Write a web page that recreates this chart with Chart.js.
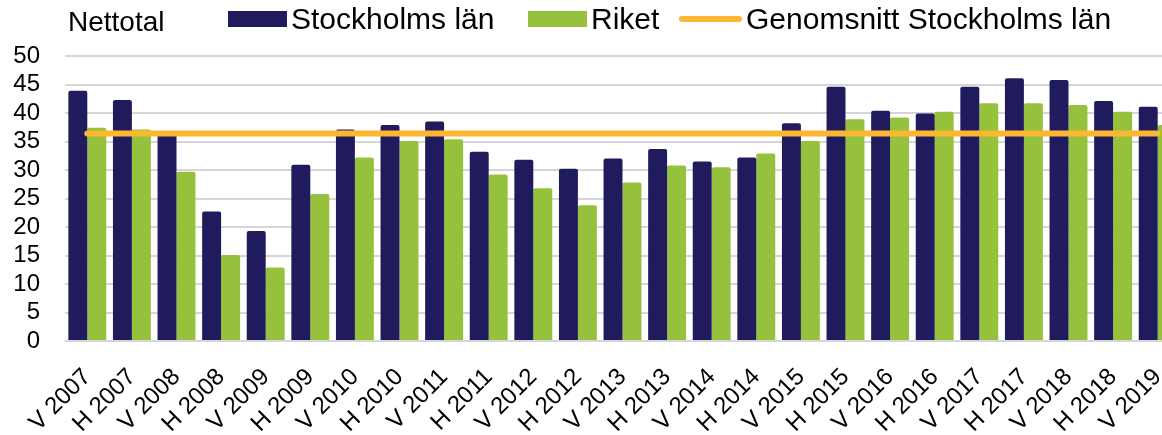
<!DOCTYPE html>
<html><head><meta charset="utf-8">
<script src="https://cdn.jsdelivr.net/npm/chart.js@4.4.1/dist/chart.umd.min.js"></script>
<style>
html,body{margin:0;padding:0;background:#fff;overflow:hidden;}
#wrap{position:relative;width:1162px;height:435px;overflow:hidden;background:#fff;}
#cwrap{position:absolute;left:0;top:0;width:1180px;height:435px;}
.lbl{position:absolute;font-family:"Liberation Sans",Arial,sans-serif;color:#000;line-height:1;white-space:nowrap;}
.sw{position:absolute;}
</style></head><body>
<div id="wrap"><div id="cwrap"><canvas id="c"></canvas></div><div id="legend"></div></div>
<script>
const categories = ["V 2007","H 2007","V 2008","H 2008","V 2009","H 2009","V 2010","H 2010","V 2011","H 2011","V 2012","H 2012","V 2013","H 2013","V 2014","H 2014","V 2015","H 2015","V 2016","H 2016","V 2017","H 2017","V 2018","H 2018","V 2019"];
const stockholm = [43.9, 42.3, 36.3, 22.7, 19.3, 30.9, 37.1, 37.9, 38.5, 33.2, 31.8, 30.2, 32.0, 33.7, 31.5, 32.2, 38.2, 44.6, 40.4, 39.9, 44.6, 46.1, 45.8, 42.1, 41.1];
const riket = [37.4, 37.1, 29.7, 15.1, 12.9, 25.8, 32.2, 35.1, 35.4, 29.2, 26.8, 23.8, 27.8, 30.8, 30.5, 32.9, 35.1, 38.9, 39.2, 40.2, 41.7, 41.7, 41.4, 40.2, 37.9];
const snittStockholm = [36.4, 36.4, 36.4, 36.4, 36.4, 36.4, 36.4, 36.4, 36.4, 36.4, 36.4, 36.4, 36.4, 36.4, 36.4, 36.4, 36.4, 36.4, 36.4, 36.4, 36.4, 36.4, 36.4, 36.4, 36.4];
const seriesNames = ["Stockholms län", "Riket", "Genomsnitt Stockholms län"];
const yAxisTitle = "Nettotal";
const yMin = 0, yMax = 50, yStep = 5;

const FONT = '"Liberation Sans", Arial, sans-serif';
const colors = ["#201B5C", "#96C13D", "#FBB731"];

const chart = new Chart(document.getElementById('c'), {
  type: 'bar',
  data: {
    labels: categories,
    datasets: [
      { type: 'line', label: seriesNames[2], data: snittStockholm, borderColor: colors[2], backgroundColor: colors[2],
        borderWidth: 6, pointRadius: 0, borderCapStyle: 'round', tension: 0, order: 0 },
      { label: seriesNames[0], data: stockholm, backgroundColor: colors[0], borderRadius: {topLeft: 2, topRight: 2}, borderSkipped: 'bottom', order: 1 },
      { label: seriesNames[1], data: riket, backgroundColor: colors[1], borderRadius: {topLeft: 2, topRight: 2}, borderSkipped: 'bottom', order: 2 }
    ]
  },
  options: {
    responsive: true, maintainAspectRatio: false, animation: false, devicePixelRatio: 1,
    layout: { padding: { top: 56, left: 0, right: 0, bottom: 0 } },
    datasets: { bar: { categoryPercentage: 0.85, barPercentage: 1.0 } },
    plugins: { legend: { display: false }, tooltip: { enabled: false } },
    scales: {
      x: {
        grid: { display: false }, border: { display: false },
        ticks: { autoSkip: false, minRotation: 45, maxRotation: 45, padding: 14, color: '#000', font: { family: FONT, size: 24 } },
        afterFit: (s) => { s.height = 94; s.paddingLeft = 0; s.paddingRight = 0; }
      },
      y: {
        min: yMin, max: yMax,
        grid: { color: '#d6d6d6', lineWidth: 2, drawTicks: false }, border: { display: false },
        ticks: { stepSize: yStep, autoSkip: false, padding: 25, color: '#000', font: { family: FONT, size: 24 } },
        afterFit: (s) => { s.width = 65; s.paddingTop = 0; s.paddingBottom = 0; }
      }
    }
  }
});

// legend built from the chart's datasets
const legend = document.getElementById('legend');
const title = document.createElement('div');
title.className = 'lbl'; title.textContent = yAxisTitle;
title.style.cssText = 'left:68px;top:8px;font-size:28px;';
legend.appendChild(title);
const order = [1, 2, 0];
const itemLeft = [228, 528, 679];
order.forEach((di, i) => {
  const ds = chart.data.datasets[di];
  const sw = document.createElement('div');
  sw.className = 'sw';
  if (ds.type === 'line') {
    sw.style.cssText = `left:${itemLeft[i]}px;top:16px;width:63px;height:6px;border-radius:3px;background:${ds.borderColor};`;
  } else {
    sw.style.cssText = `left:${itemLeft[i]}px;top:11px;width:59px;height:16px;background:${ds.backgroundColor};`;
  }
  legend.appendChild(sw);
  const t = document.createElement('div');
  t.className = 'lbl'; t.textContent = ds.label;
  const tx = itemLeft[i] + (ds.type === 'line' ? 67 : 63);
  t.style.cssText = `left:${tx}px;top:4px;font-size:30px;`;
  legend.appendChild(t);
});
</script>
</body></html>
